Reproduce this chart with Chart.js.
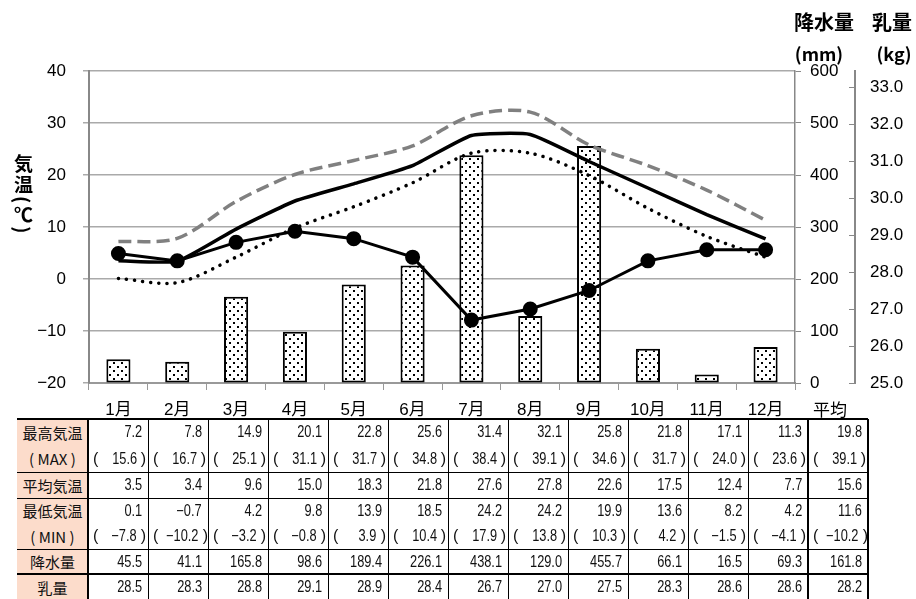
<!DOCTYPE html>
<html>
<head>
<meta charset="utf-8">
<script src="https://cdn.jsdelivr.net/npm/chart.js@4.4.1/dist/chart.umd.min.js"></script>
<style>
  body { margin: 0; background: #fff; }
  #wrap { position: relative; width: 916px; height: 599px; overflow: hidden; }
  #chart { position: absolute; left: 0; top: 0; }
  #ytitle { position: absolute; left: 12px; top: 154px; writing-mode: vertical-rl; text-orientation: mixed;
            font: bold 19px 'Noto Sans CJK JP', sans-serif; line-height: 22px; color: #000; letter-spacing: 2px; }
  .cell { position: absolute; box-sizing: border-box; display: flex; align-items: center;
          font-family: 'Liberation Sans', sans-serif;
          font-size: 16px; color: #111; white-space: nowrap; }
  .n { display: inline-block; transform: scaleX(0.8); transform-origin: right center; }
  .num { justify-content: flex-end; padding-right: 6px; }
  .rec { justify-content: space-between; padding: 0 2px 0 5px; }
  .rec .n { margin-left: auto; margin-right: 4px; }
  .lab { justify-content: center; background: #fcdccb; font-family: 'Noto Sans CJK JP', sans-serif; font-size: 15px; }
  .line { position: absolute; background: #000; }
</style>
</head>
<body>
<div id="wrap">
  <canvas id="chart" width="916" height="599"></canvas>
  <div id="ytitle">気温(℃)</div>
  <div id="table"></div>
</div>
<script>
const months = ['1月', '2月', '3月', '4月', '5月', '6月', '7月', '8月', '9月', '10月', '11月', '12月'];
const maxTemp = [7.2, 7.8, 14.9, 20.1, 22.8, 25.6, 31.4, 32.1, 25.8, 21.8, 17.1, 11.3];
const maxRecord = [15.6, 16.7, 25.1, 31.1, 31.7, 34.8, 38.4, 39.1, 34.6, 31.7, 24.0, 23.6];
const avgTemp = [3.5, 3.4, 9.6, 15.0, 18.3, 21.8, 27.6, 27.8, 22.6, 17.5, 12.4, 7.7];
const minTemp = [0.1, -0.7, 4.2, 9.8, 13.9, 18.5, 24.2, 24.2, 19.9, 13.6, 8.2, 4.2];
const minRecord = [-7.8, -10.2, -3.2, -0.8, 3.9, 10.4, 17.9, 13.8, 10.3, 4.2, -1.5, -4.1];
const rainfall = [45.5, 41.1, 165.8, 98.6, 189.4, 226.1, 438.1, 129.0, 455.7, 66.1, 16.5, 69.3];
const milk = [28.5, 28.3, 28.8, 29.1, 28.9, 28.4, 26.7, 27.0, 27.5, 28.3, 28.6, 28.6];
// 平均 column: max, (max record), avg, min, (min record), rainfall, milk
const annual = [19.8, 39.1, 15.6, 11.6, -10.2, 161.8, 28.2];

const tempTicks = [-20, -10, 0, 10, 20, 30, 40];
const rainTicks = [0, 100, 200, 300, 400, 500, 600];
const milkTicks = [25, 26, 27, 28, 29, 30, 31, 32, 33];

const FONT = "'Liberation Sans', 'Noto Sans CJK JP', sans-serif";
const minus = v => String(v).replace('-', '−');

function dots() {
  const c = document.createElement('canvas');
  c.width = 8; c.height = 8;
  const g = c.getContext('2d');
  g.fillStyle = '#fff';
  g.fillRect(0, 0, 8, 8);
  g.fillStyle = '#000';
  g.fillRect(1, 2, 2, 2);
  g.fillRect(5, 6, 2, 2);
  return g.createPattern(c, 'repeat');
}

const extras = {
  id: 'extras',
  afterDraw(chart) {
    const ctx = chart.ctx;
    ctx.save();
    // little ticks on the milk axis, pointing inward
    const m = chart.scales.yMilk;
    ctx.strokeStyle = '#888';
    ctx.lineWidth = 1;
    milkTicks.forEach(v => {
      const y = Math.round(m.getPixelForValue(v)) + 0.5;
      ctx.beginPath();
      ctx.moveTo(m.left - 6, y);
      ctx.lineTo(m.left, y);
      ctx.stroke();
    });
    ctx.fillStyle = '#000';
    ctx.textAlign = 'center';
    ctx.textBaseline = 'middle';
    ctx.font = "bold 20px 'Noto Sans CJK JP', sans-serif";
    ctx.fillText('降水量', 824, 22);
    ctx.fillText('乳量', 892, 22);
    ctx.font = "bold 18px 'Noto Sans CJK JP', sans-serif";
    ctx.fillText('(mm)', 819, 54);
    ctx.fillText('(kg)', 894, 54);
    ctx.font = '17px ' + FONT;
    ctx.fillText('平均', 830, 411);
    ctx.restore();
  }
};

new Chart(document.getElementById('chart'), {
  type: 'bar',
  data: {
    labels: months,
    datasets: [
      { type: 'line', label: '最高気温', data: maxTemp, yAxisID: 'y', borderColor: '#808080', borderWidth: 3.5,
        borderDash: [13, 6], pointRadius: 0, tension: 0.3, order: 1 },
      { type: 'line', label: '平均気温', data: avgTemp, yAxisID: 'y', borderColor: '#000', borderWidth: 3.5,
        pointRadius: 0, tension: 0.15, order: 1 },
      { type: 'line', label: '最低気温', data: minTemp, yAxisID: 'y', borderColor: '#000', borderWidth: 3.5,
        borderDash: [0.1, 8], borderCapStyle: 'round', pointRadius: 0, tension: 0.3, order: 1 },
      { type: 'line', label: '乳量', data: milk, yAxisID: 'yMilk', borderColor: '#000', borderWidth: 3,
        pointRadius: 6, pointBackgroundColor: '#000', pointBorderColor: '#000', tension: 0, order: 0 },
      { label: '降水量', data: rainfall, yAxisID: 'yRain', backgroundColor: dots(), borderColor: '#000',
        borderWidth: 2, borderSkipped: false, barPercentage: 0.41, categoryPercentage: 1, order: 10 }
    ]
  },
  options: {
    responsive: false,
    animation: false,
    layout: { padding: { top: 71, left: 0, right: 0, bottom: 0 } },
    plugins: { legend: { display: false }, tooltip: { enabled: false } },
    scales: {
      x: {
        offset: true,
        grid: { drawOnChartArea: false, offset: true, tickLength: 7, color: '#999' },
        border: { color: '#999', width: 2 },
        ticks: { color: '#000', font: { size: 17, family: FONT }, padding: 10, maxRotation: 0 },
        afterFit: s => { s.height = 216; }
      },
      y: {
        position: 'left', min: -20, max: 40,
        afterBuildTicks: s => { s.ticks = tempTicks.map(value => ({ value })); },
        grid: { color: '#aaa', lineWidth: 1.5, tickLength: 6 },
        border: { color: '#888', width: 2 },
        ticks: { color: '#000', font: { size: 17, family: FONT }, padding: 17, callback: v => minus(v) },
        afterFit: s => { s.width = 89; }
      },
      yRain: {
        position: 'right', min: 0, max: 600,
        afterBuildTicks: s => { s.ticks = rainTicks.map(value => ({ value })); },
        grid: { drawOnChartArea: false, tickLength: 6, color: '#888' },
        border: { color: '#888', width: 1.5 },
        ticks: { color: '#000', font: { size: 17, family: FONT }, padding: 9 },
        afterFit: s => { s.width = 60; }
      },
      yMilk: {
        position: 'right', min: 25, max: 33.43,
        afterBuildTicks: s => { s.ticks = milkTicks.map(value => ({ value })); },
        grid: { display: false, drawTicks: false },
        border: { display: true, color: '#888', width: 2 },
        ticks: { color: '#000', font: { size: 17, family: FONT }, padding: 15, callback: v => v.toFixed(1) },
        afterFit: s => { s.width = 61; }
      }
    }
  },
  plugins: [extras]
});

// table under the chart
const table = document.getElementById('table');
const colX = [17, 88];
for (let i = 1; i <= 13; i++) colX.push(88 + 60 * i);
const rowY = [419, 445.5, 472, 498, 523.5, 549, 574, 600];
const rowLabels = ['最高気温', '( MAX )', '平均気温', '最低気温', '( MIN )', '降水量', '乳量'];
const rows = [maxTemp, maxRecord, avgTemp, minTemp, minRecord, rainfall, milk];
const recRows = [1, 4];

function add(cls, x, y, w, h, html) {
  const d = document.createElement('div');
  d.className = cls;
  Object.assign(d.style, { left: x + 'px', top: y + 'px', width: w + 'px', height: h + 'px' });
  if (html !== undefined) d.innerHTML = html;
  table.appendChild(d);
}

rows.forEach((vals, r) => {
  const y = rowY[r], h = rowY[r + 1] - rowY[r];
  add('cell lab', colX[0], y, colX[1] - colX[0], h, rowLabels[r]);
  vals.concat([annual[r]]).forEach((v, c) => {
    const x = colX[c + 1], w = 60;
    const txt = '<span class="n">' + minus(v.toFixed(1)) + '</span>';
    if (recRows.includes(r)) {
      add('cell rec', x, y, w, h, '<span>(</span>' + txt + '<span>)</span>');
    } else {
      add('cell num', x, y, w, h, txt);
    }
  });
});

// horizontal rules
[[419, 2], [472, 1], [498, 1], [549, 1], [574, 2]].forEach(([y, t]) => {
  add('line', 17, y - t / 2, 868 - 17, t);
});
// vertical rules
colX.slice(1).forEach((x, i) => {
  const t = (i === 0 || x === 808 || x === 868) ? 2 : 1;
  add('line', x - t / 2, 419, t, 190);
});
</script>
</body>
</html>
